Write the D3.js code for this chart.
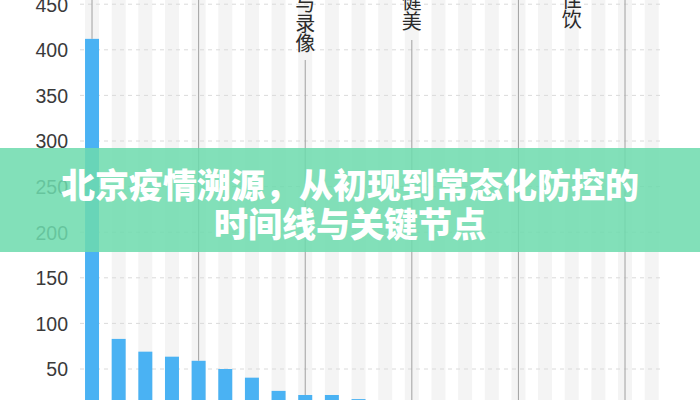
<!DOCTYPE html>
<html><head><meta charset="utf-8">
<script src="https://cdn.jsdelivr.net/npm/d3@7"></script>
<style>
html,body{margin:0;padding:0;background:#fff;overflow:hidden;}
svg{display:block;}
</style></head>
<body><svg id="c" width="700" height="400"></svg>
<script>
// Data
const categories = ["C1","C2","C3","C4","C5","C6","C7","C8","C9","C10","C11","C12","C13","C14","C15","C16","C17","C18","C19","C20","C21","C22"];
const values = [412, 83, 69, 63.5, 59, 50, 40.5, 26, 21.5, 21.5, 17, 14, 12, 11, 10, 9, 8, 7, 6, 6, 5, 4];
const yTicks = [50, 100, 150, 200, 250, 300, 350, 400, 450];
const markerCats = ["C1","C5","C9","C13","C17","C21"];
const markerStart = [0, 0, 60, 40, 0, 0];
const noteCats = ["C9","C13","C19"];
const noteTexts = ["与录像","健美","佳饮"];
const noteEndY = [53, 31, 29];
const titleLines = ["北京疫情溯源，从初现到常态化防控的","时间线与关键节点"];

const svg = d3.select("#c");
const x = d3.scaleBand().domain(categories).range([78.7, 665]).paddingInner(0.475).paddingOuter(0.2375);
const y = d3.scaleLinear().domain([0, 450]).range([414.6, 4.2]);

// background bands
svg.append("g").selectAll("rect").data(categories).join("rect")
  .attr("x", d => x(d)).attr("width", x.bandwidth())
  .attr("y", 0).attr("height", 400).attr("fill", "#f4f4f4");

// gridlines
svg.append("g").selectAll("line").data(yTicks).join("line")
  .attr("x1", 80).attr("x2", 663)
  .attr("y1", d => y(d)).attr("y2", d => y(d))
  .attr("stroke", "#dadada").attr("stroke-dasharray", "4,4").attr("stroke-width", 1);

// y axis labels
const yAxis = d3.axisLeft(y).tickValues(yTicks).tickSize(0).tickPadding(0);
const ag = svg.append("g").attr("transform", "translate(68,0)").call(yAxis);
ag.select(".domain").remove();
ag.selectAll("text").attr("font-family", "'Liberation Sans', Arial, sans-serif")
  .attr("font-size", 19.5).attr("fill", "#3a3a3a").attr("dy", "0.35em");

// bars
svg.append("g").selectAll("rect").data(values).join("rect")
  .attr("x", (d, i) => x(categories[i])).attr("width", x.bandwidth())
  .attr("y", d => y(d)).attr("height", d => y(0) - y(d))
  .attr("fill", "#4ab2f3");

// marker lines
svg.append("g").selectAll("line").data(markerCats).join("line")
  .attr("x1", d => x(d) + x.bandwidth() / 2).attr("x2", d => x(d) + x.bandwidth() / 2)
  .attr("y1", (d, i) => markerStart[i])
  .attr("y2", d => Math.min(400, y(values[categories.indexOf(d)])))
  .attr("stroke", "#a0a0a0").attr("stroke-width", 1);

// vertical notes
svg.append("g").selectAll("text").data(noteTexts).join("text")
  .attr("x", (d, i) => x(noteCats[i]) + x.bandwidth() / 2)
  .attr("y", (d, i) => noteEndY[i])
  .style("writing-mode", "vertical-rl")
  .attr("text-anchor", "end")
  .attr("font-family", "'Noto Sans CJK SC', sans-serif").attr("font-size", 20)
  .attr("fill", "#2a2a2a").text(d => d);

// title banner
svg.append("rect").attr("x", 0).attr("y", 148).attr("width", 700).attr("height", 104)
  .attr("fill", "rgb(110,219,173)").attr("fill-opacity", 0.86);
svg.append("g").selectAll("text").data(titleLines).join("text")
  .attr("x", 350).attr("y", (d, i) => 183 + i * 39)
  .attr("text-anchor", "middle").attr("dominant-baseline", "central")
  .attr("font-family", "'Noto Sans CJK SC', sans-serif").attr("font-weight", 900)
  .attr("font-size", 34).attr("fill", "#fff")
  .text(d => d);
</script>
</body></html>
